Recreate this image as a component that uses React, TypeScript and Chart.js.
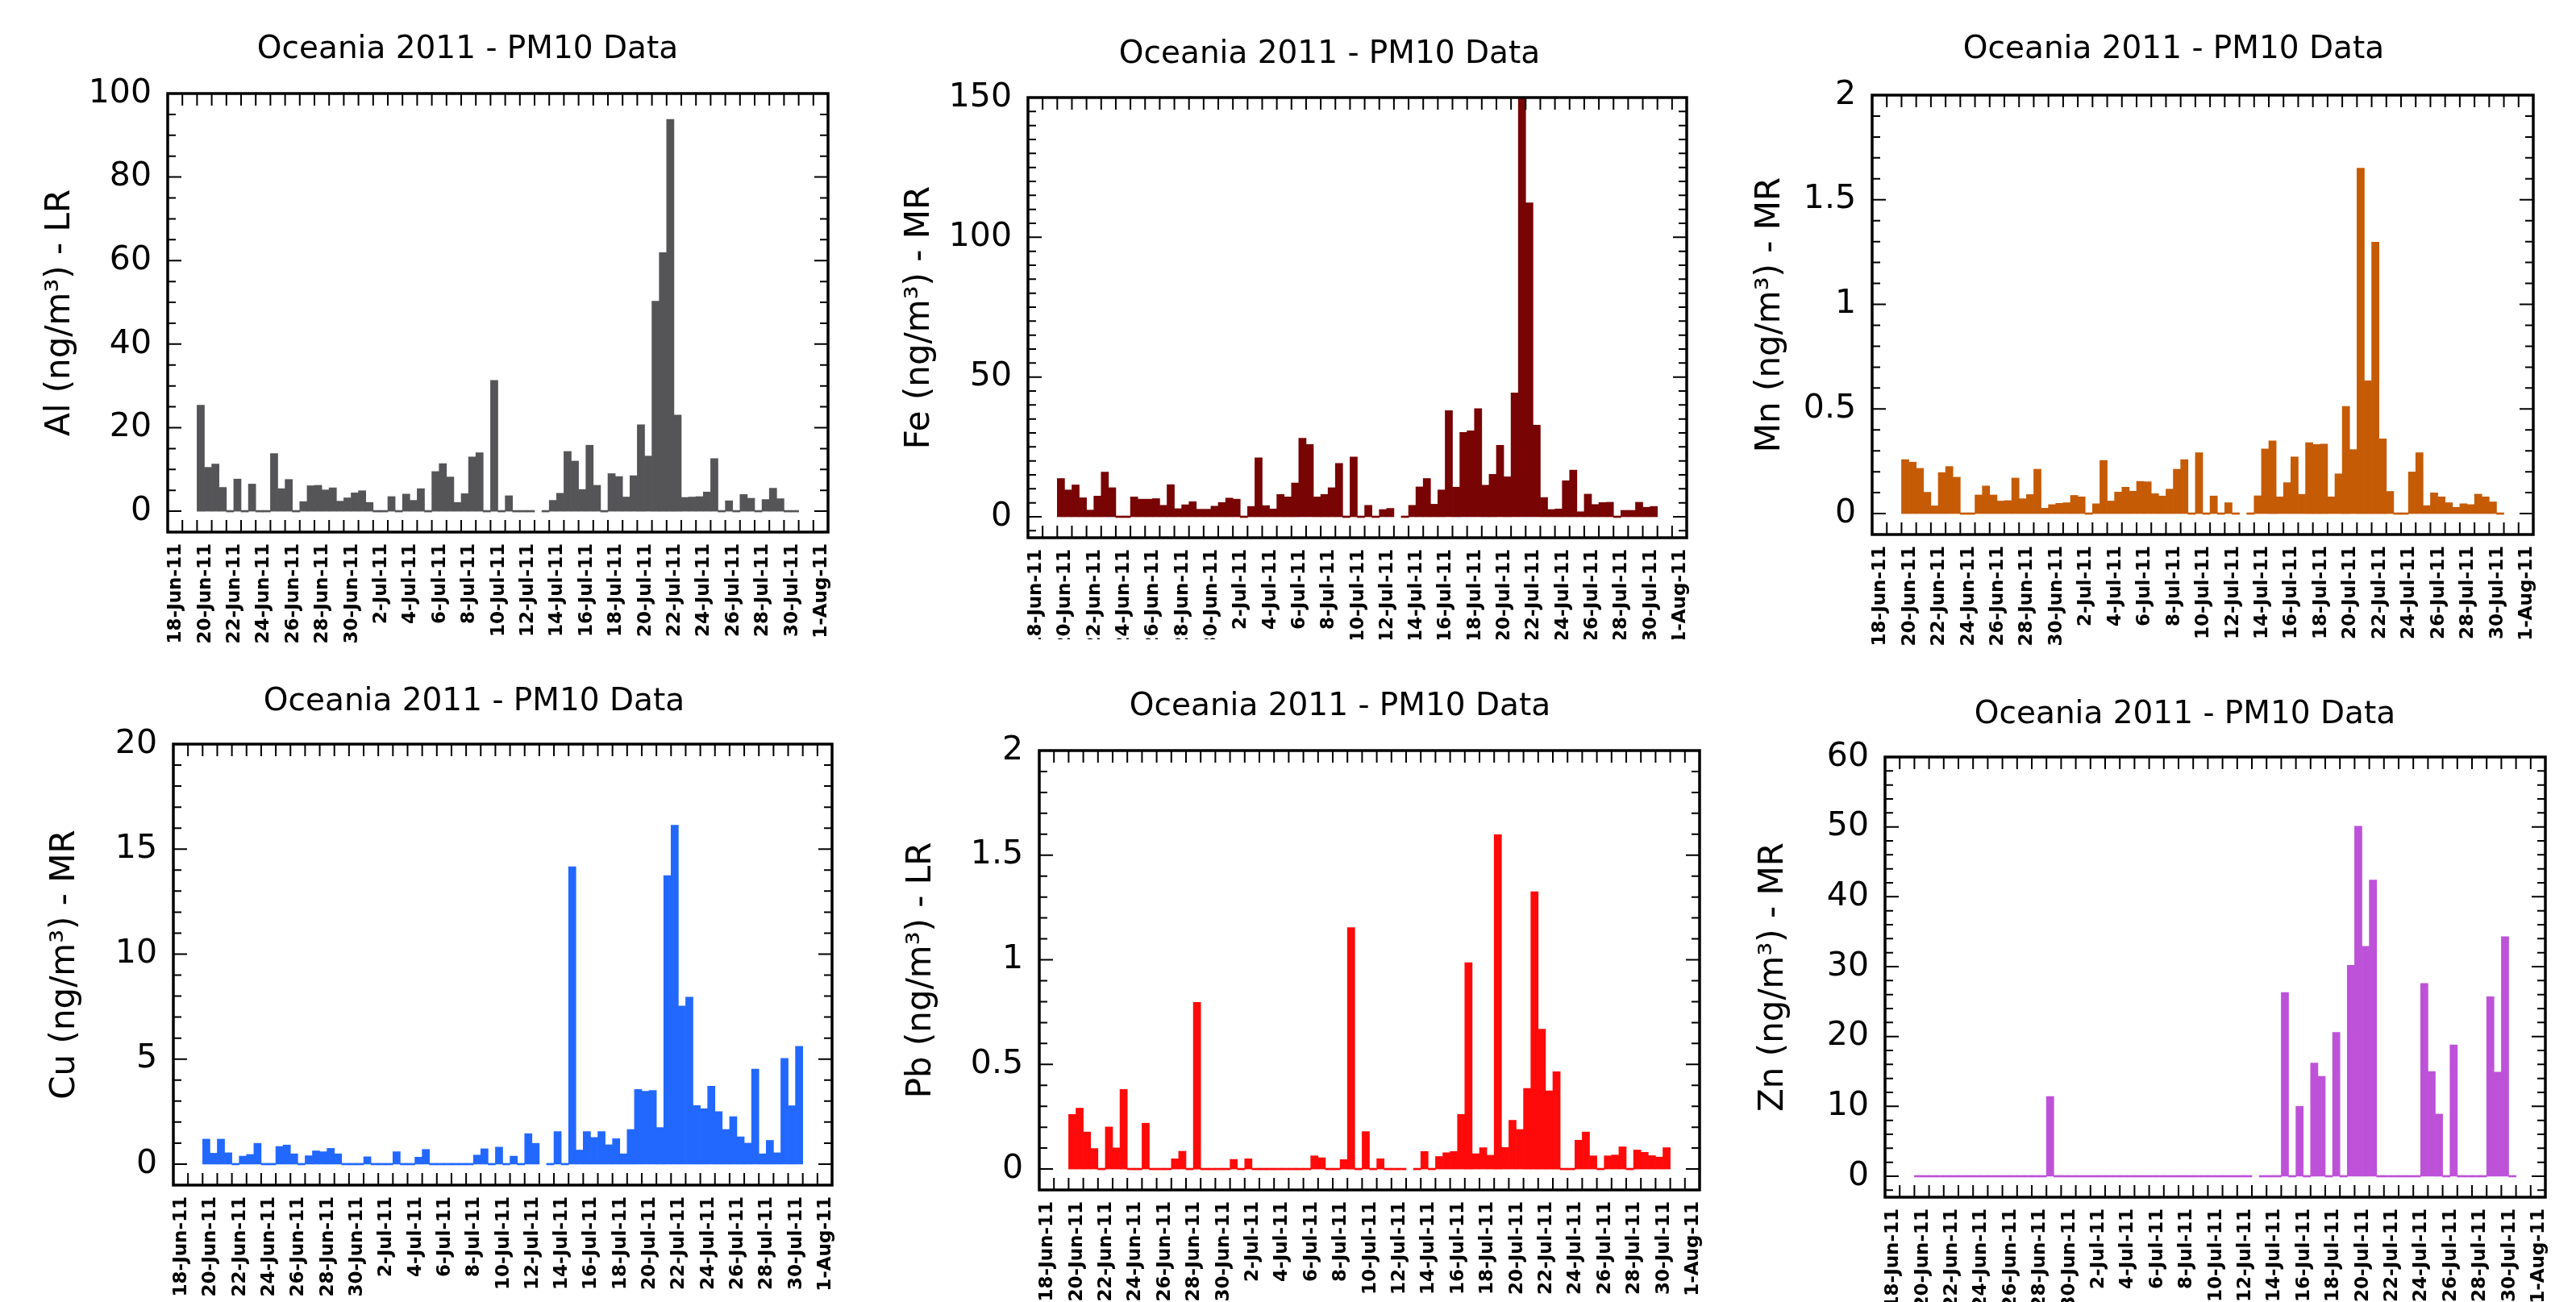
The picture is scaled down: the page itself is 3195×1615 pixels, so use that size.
import React, { useEffect, useRef } from 'react';
import { Chart, registerables } from 'chart.js';

Chart.register(...registerables);

const FONT = "'DejaVu Sans', 'Liberation Sans', sans-serif";
const CHART_TITLE = 'Oceania 2011 - PM10 Data';

// x axis: days after 17-Jun-11 (0) up to 1-Aug-11 (45)
const AXIS_START_DAY = 0;
const AXIS_END_DAY = 45;
const FIRST_SAMPLE_DAY = 2; // 19-Jun-11, first 12-hour sample
const SAMPLE_STEP_DAYS = 0.5;

const DATE_LABELS = [
  '18-Jun-11', '20-Jun-11', '22-Jun-11', '24-Jun-11', '26-Jun-11', '28-Jun-11', '30-Jun-11',
  '2-Jul-11', '4-Jul-11', '6-Jul-11', '8-Jul-11', '10-Jul-11', '12-Jul-11', '14-Jul-11',
  '16-Jul-11', '18-Jul-11', '20-Jul-11', '22-Jul-11', '24-Jul-11', '26-Jul-11', '28-Jul-11',
  '30-Jul-11', '1-Aug-11',
];
const DATE_LABEL_DAYS = DATE_LABELS.map((_, k) => 1 + 2 * k);

// 82 half-day samples from 19-Jun-11 to 30-Jul-11 (null = missing sample)
const AL = [
  25.4, 10.5, 11.3, 5.7, 0, 7.7, 0, 6.5, 0, 0,
  13.8, 5.4, 7.6, 0, 2.3, 6.1, 6.2, 5.1, 5.6, 2.4,
  3.2, 4.4, 4.9, 2.1, 0, 0, 3.5, 0, 4.1, 2.6,
  5.4, 0, 9.5, 11.4, 8.2, 2.1, 4.2, 13.0, 14.0, 0,
  31.3, 0, 3.7, 0, 0, 0, null, 0, 2.6, 4.3,
  14.3, 12.0, 5.2, 15.8, 6.2, 0, 9.0, 8.3, 3.4, 8.5,
  20.7, 13.2, 50.3, 61.9, 93.8, 23.0, 3.3, 3.4, 3.5, 4.6,
  12.6, 0, 2.5, 0, 4.0, 3.1, 0, 2.8, 5.5, 3.0,
  0, 0,
];
const FE = [
  13.7, 9.6, 11.4, 6.8, 2.4, 7.4, 16.0, 10.4, 0, 0,
  7.1, 6.3, 6.3, 6.5, 4.1, 11.5, 2.9, 4.3, 5.4, 2.7,
  2.7, 3.8, 5.1, 6.7, 6.3, 0, 3.7, 21.1, 4.0, 2.8,
  8.0, 7.1, 12.1, 28.1, 25.9, 7.1, 8.0, 10.4, 19.1, 0,
  21.4, 0, 4.1, 0, 2.6, 3.0, null, 0, 4.1, 10.7,
  13.7, 4.5, 9.6, 38.0, 10.6, 30.2, 30.8, 38.7, 11.3, 15.2,
  25.6, 14.3, 44.3, 175, 112.3, 32.8, 6.9, 2.6, 2.8, 12.9,
  16.7, 1.8, 8.1, 4.4, 5.1, 5.2, 0, 2.3, 2.3, 5.2,
  3.4, 3.7,
];
const MN = [
  0.258, 0.246, 0.216, 0.102, 0.037, 0.196, 0.225, 0.174, 0, 0,
  0.089, 0.132, 0.089, 0.060, 0.062, 0.170, 0.071, 0.091, 0.212, 0.026,
  0.043, 0.049, 0.052, 0.087, 0.080, 0, 0.047, 0.254, 0.060, 0.103,
  0.126, 0.107, 0.154, 0.152, 0.095, 0.084, 0.117, 0.212, 0.258, 0,
  0.291, 0, 0.084, 0, 0.052, 0, null, 0, 0.085, 0.309,
  0.348, 0.080, 0.148, 0.271, 0.092, 0.339, 0.330, 0.332, 0.080, 0.190,
  0.512, 0.306, 1.651, 0.635, 1.297, 0.357, 0.106, 0, 0, 0.199,
  0.291, 0.038, 0.099, 0.080, 0.052, 0.030, 0.047, 0.043, 0.093, 0.080,
  0.056, 0,
];
const CU = [
  1.19, 0.52, 1.19, 0.54, 0, 0.38, 0.46, 0.99, 0, 0,
  0.84, 0.91, 0.49, 0, 0.40, 0.63, 0.59, 0.75, 0.49, 0,
  0, 0, 0.35, 0, 0, 0, 0.59, 0, 0, 0.33,
  0.70, 0, 0, 0, 0, 0, 0, 0.43, 0.73, 0,
  0.81, 0, 0.38, 0, 1.45, 0.99, null, 0, 1.55, 0,
  14.16, 0.67, 1.55, 1.27, 1.55, 0.92, 1.21, 0.49, 1.65, 3.56,
  3.47, 3.51, 1.74, 13.74, 16.14, 7.53, 7.95, 2.79, 2.64, 3.71,
  2.50, 1.65, 2.26, 1.30, 1.00, 4.53, 0.49, 1.13, 0.54, 5.03,
  2.78, 5.61,
];
const PB = [
  0.261, 0.291, 0.177, 0.098, 0, 0.201, 0.101, 0.380, 0, 0,
  0.219, 0, 0, 0, 0.049, 0.085, 0, 0.797, 0, 0,
  0, 0, 0.046, 0, 0.049, 0, 0, 0, 0, 0,
  0, 0, 0, 0.063, 0.054, 0, 0, 0.045, 1.154, 0,
  0.179, 0, 0.049, 0, 0, 0, null, 0, 0.084, 0,
  0.060, 0.078, 0.084, 0.261, 0.986, 0.073, 0.102, 0.066, 1.598, 0.103,
  0.233, 0.189, 0.385, 1.325, 0.668, 0.374, 0.465, 0, 0, 0.138,
  0.177, 0.063, 0, 0.063, 0.067, 0.106, 0, 0.091, 0.080, 0.064,
  0.057, 0.102,
];
const ZN = [
  0, 0, 0, 0, 0, 0, 0, 0, 0, 0,
  0, 0, 0, 0, 0, 0, 0, 0, 11.4, 0,
  0, 0, 0, 0, 0, 0, 0, 0, 0, 0,
  0, 0, 0, 0, 0, 0, 0, 0, 0, 0,
  0, 0, 0, 0, 0, 0, null, 0, 0, 0,
  26.3, 0, 10.0, 0, 16.2, 14.3, 0, 20.6, 0, 30.2,
  50.1, 32.9, 42.4, 0, 0, 0, 0, 0, 0, 27.6,
  15.0, 8.9, 0, 18.8, 0, 0, 0, 0, 25.7, 14.9,
  34.3, 0,
];

const AL_TICKS = [0, 20, 40, 60, 80, 100];
const FE_TICKS = [0, 50, 100, 150];
const MN_TICKS = [0, 0.5, 1, 1.5, 2];
const CU_TICKS = [0, 5, 10, 15, 20];
const PB_TICKS = [0, 0.5, 1, 1.5, 2];
const ZN_TICKS = [0, 10, 20, 30, 40, 50, 60];

type PanelCfg = {
  values: (number | null)[];
  color: string;
  yTitle: string;
  yMin: number;
  yMax: number;
  yTicks: number[];
  major: number;
  minor: number;
  L: number; T: number; R: number; B: number;
  titleCX: number; titleCY: number; yTitleCX: number; bottom: number;
};

const PANELS: PanelCfg[] = [
  { values: AL, color: '#555558', yTitle: 'Al (ng/m³) - LR', yMin: -5, yMax: 100, yTicks: AL_TICKS, major: 20, minor: 5,
    L: 208, T: 116, R: 1027, B: 660, titleCX: 580, titleCY: 61, yTitleCX: 75, bottom: 812 },
  { values: FE, color: '#780404', yTitle: 'Fe (ng/m³) - MR', yMin: -7.5, yMax: 150, yTicks: FE_TICKS, major: 50, minor: 5,
    L: 1275, T: 121, R: 2092, B: 667, titleCX: 1649, titleCY: 67, yTitleCX: 1141, bottom: 793 },
  { values: MN, color: '#C55B05', yTitle: 'Mn (ng/m³) - MR', yMin: -0.1, yMax: 2, yTicks: MN_TICKS, major: 0.5, minor: 0.1,
    L: 2322, T: 118, R: 3142, B: 663, titleCX: 2696, titleCY: 61, yTitleCX: 2196, bottom: 812 },
  { values: CU, color: '#2268FF', yTitle: 'Cu (ng/m³) - MR', yMin: -1, yMax: 20, yTicks: CU_TICKS, major: 5, minor: 1,
    L: 215, T: 923, R: 1032, B: 1470, titleCX: 588, titleCY: 870, yTitleCX: 81, bottom: 1615 },
  { values: PB, color: '#FF0A0A', yTitle: 'Pb (ng/m³) - LR', yMin: -0.1, yMax: 2, yTicks: PB_TICKS, major: 0.5, minor: 0.1,
    L: 1289, T: 931, R: 2108, B: 1476, titleCX: 1662, titleCY: 876, yTitleCX: 1143, bottom: 1615 },
  { values: ZN, color: '#BD52D9', yTitle: 'Zn (ng/m³) - MR', yMin: -3, yMax: 60, yTicks: ZN_TICKS, major: 10, minor: 2,
    L: 2338, T: 939, R: 3157, B: 1485, titleCX: 2710, titleCY: 886, yTitleCX: 2200, bottom: 1615 },
];

const TITLE_SIZE = 39;
const Y_TITLE_SIZE = 42;
const Y_TICK_SIZE = 41;
const X_TICK_SIZE = 23;

const frameTicksPlugin = {
  id: 'frameTicks',
  afterDraw(chart: any, _args: any, opts: any) {
    const { ctx, chartArea } = chart;
    const { left, right, top, bottom } = chartArea;
    const xs = chart.scales.x;
    const ys = chart.scales.y;
    ctx.save();
    ctx.strokeStyle = '#000';
    ctx.lineWidth = 2;
    ctx.beginPath();
    for (let d = AXIS_START_DAY + 1; d < AXIS_END_DAY; d++) {
      const px = xs.getPixelForValue(d);
      ctx.moveTo(px, bottom);
      ctx.lineTo(px, bottom - 15);
      ctx.moveTo(px, top);
      ctx.lineTo(px, top + 15);
    }
    const n0 = Math.ceil(ys.min / opts.minor - 1e-6);
    const n1 = Math.floor(ys.max / opts.minor + 1e-6);
    for (let n = n0; n <= n1; n++) {
      const v = n * opts.minor;
      const r = v / opts.major;
      const isMajor = Math.abs(r - Math.round(r)) < 1e-6;
      const len = isMajor ? 17 : 10;
      const py = ys.getPixelForValue(v);
      ctx.moveTo(left, py);
      ctx.lineTo(left + len, py);
      ctx.moveTo(right, py);
      ctx.lineTo(right - len, py);
    }
    ctx.stroke();
    ctx.lineWidth = 3.5;
    ctx.strokeRect(left, top, right - left, bottom - top);
    ctx.restore();
  },
};

function Panel({ cfg }: { cfg: PanelCfg }) {
  const ref = useRef<HTMLCanvasElement>(null);
  const yTitleLine = Y_TITLE_SIZE * 1.2;
  const titleLine = TITLE_SIZE * 1.2;
  const left = Math.round(cfg.yTitleCX - yTitleLine / 2);
  const right = 2 * cfg.titleCX - left;
  const top = Math.round(cfg.titleCY - titleLine / 2);
  const width = right - left;
  const height = cfg.bottom - top;
  const yAxisW = cfg.L - left;
  const rightSpace = right - cfg.R;
  const titleBottomPad = cfg.T - top - titleLine;
  const xAxisH = cfg.bottom - cfg.B;

  useEffect(() => {
    const points = cfg.values.map((v, i) => ({
      x: FIRST_SAMPLE_DAY + (i + 0.5) * SAMPLE_STEP_DAYS,
      y: v,
    }));
    const chart = new Chart(ref.current as HTMLCanvasElement, {
      type: 'bar',
      data: {
        datasets: [
          {
            data: points as any,
            backgroundColor: cfg.color,
            borderWidth: 0,
            barPercentage: 1,
            categoryPercentage: 1,
            minBarLength: 2,
            xAxisID: 'x',
            yAxisID: 'y',
          } as any,
        ],
      },
      options: {
        animation: false,
        responsive: false,
        maintainAspectRatio: false,
        devicePixelRatio: 1,
        layout: { padding: 0 },
        plugins: {
          legend: { display: false },
          tooltip: { enabled: false },
          title: {
            display: true,
            text: CHART_TITLE,
            color: '#000',
            font: { family: FONT, size: TITLE_SIZE, weight: 'normal', lineHeight: 1.2 },
            padding: { top: 0, bottom: titleBottomPad },
          },
          frameTicks: { major: cfg.major, minor: cfg.minor },
        } as any,
        scales: {
          x: {
            type: 'linear',
            min: AXIS_START_DAY,
            max: AXIS_END_DAY,
            offset: false,
            grid: { display: false, drawTicks: false },
            border: { display: false },
            afterBuildTicks: (scale: any) => {
              scale.ticks = DATE_LABEL_DAYS.map((d) => ({ value: d }));
            },
            afterFit: (scale: any) => {
              scale.height = xAxisH;
            },
            ticks: {
              autoSkip: false,
              maxRotation: 90,
              minRotation: 90,
              padding: 14,
              labelOffset: -8,
              color: '#000',
              font: { family: FONT, size: X_TICK_SIZE, weight: 'bold' },
              callback: (value: any) => {
                const k = DATE_LABEL_DAYS.indexOf(Number(value));
                return k >= 0 ? DATE_LABELS[k] : '';
              },
            },
          },
          y: {
            type: 'linear',
            position: 'left',
            min: cfg.yMin,
            max: cfg.yMax,
            grid: { display: false, drawTicks: false },
            border: { display: false },
            afterBuildTicks: (scale: any) => {
              scale.ticks = cfg.yTicks.map((v) => ({ value: v }));
            },
            afterFit: (scale: any) => {
              scale.width = yAxisW;
            },
            ticks: {
              padding: 20,
              color: '#000',
              font: { family: FONT, size: Y_TICK_SIZE },
              callback: (value: any) => String(value),
            },
            title: {
              display: true,
              text: cfg.yTitle,
              color: '#000',
              padding: 0,
              font: { family: FONT, size: Y_TITLE_SIZE, lineHeight: 1.2 },
            },
          },
          yRight: {
            type: 'linear',
            position: 'right',
            min: cfg.yMin,
            max: cfg.yMax,
            grid: { display: false, drawTicks: false },
            border: { display: false },
            ticks: { display: false },
            afterFit: (scale: any) => {
              scale.width = rightSpace;
            },
          },
        },
      } as any,
      plugins: [frameTicksPlugin as any],
    });
    return () => chart.destroy();
  }, []);

  return (
    <canvas
      ref={ref}
      width={width}
      height={height}
      style={{ position: 'absolute', left, top, width, height }}
    />
  );
}

export default function App() {
  return (
    <div
      style={{
        position: 'absolute',
        left: 0,
        top: 0,
        width: 3195,
        height: 1615,
        overflow: 'hidden',
        background: '#fff',
      }}
    >
      {PANELS.map((p, i) => (
        <Panel key={i} cfg={p} />
      ))}
    </div>
  );
}
